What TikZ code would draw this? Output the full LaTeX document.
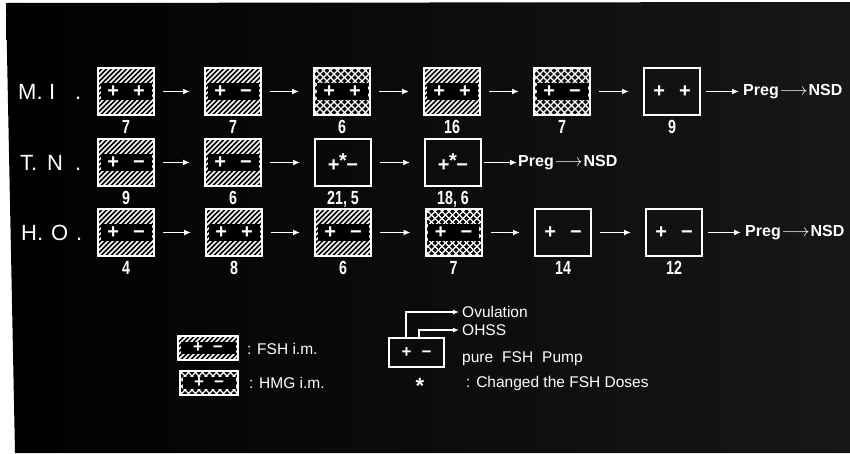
\documentclass[tikz,border=0pt]{standalone}
\usepackage{fontspec}
\setmainfont{Liberation Sans}
\newfontfamily\cond{Liberation Sans}[FakeStretch=0.75]
\usetikzlibrary{arrows.meta}
\tikzset{
  stage/.style={draw=white, line width=2pt, minimum width=56pt, minimum height=47pt,
    inner sep=0pt, text=white, font=\bfseries\fontsize{20}{20}\selectfont},
  fsh/.style={path picture={
      \foreach \i in {-70,-65,...,70}
        \draw[white,line width=1.7pt] ([xshift=\i]path picture bounding box.south west) -- ++(60,-60);
      \fill[black] ([xshift=2.5pt,yshift=-#1]path picture bounding box.west) rectangle
                   ([xshift=-2.5pt,yshift=#1]path picture bounding box.east);}},
  fsh/.default=8.5pt,
  hmg/.style={path picture={
      \foreach \i in {-70,-63,...,70}{
        \draw[white,line width=1.2pt] ([xshift=\i]path picture bounding box.south west) -- ++(60,-60);
        \draw[white,line width=1.2pt] ([xshift=\i]path picture bounding box.north west) -- ++(60,60);}
      \fill[black] ([xshift=2.5pt,yshift=-#1]path picture bounding box.west) rectangle
                   ([xshift=-2.5pt,yshift=#1]path picture bounding box.east);}},
  hmg/.default=8.5pt,
  num/.style={text=white, inner sep=0pt, anchor=north, font=\cond\bfseries\fontsize{19}{19}\selectfont},
  rowlbl/.style={text=white, inner sep=0pt, anchor=west, font=\fontsize{22}{22}\selectfont},
  preg/.style={text=white, inner sep=0pt, anchor=west, font=\bfseries\fontsize{16}{16}\selectfont},
  legtxt/.style={text=white, inner sep=0pt, anchor=west, font=\fontsize{15.5}{15.5}\selectfont},
  arr/.style={white, line width=1.5pt, -{Latex[length=7pt,width=6pt]}, shorten <=8pt, shorten >=14pt},
  arrp/.style={white, line width=1.5pt, -{Latex[length=7pt,width=6pt]}, shorten <=5pt, shorten >=4pt},
  larr/.style={white, line width=1.4pt, -{Latex[length=6pt,width=5pt]}, shorten >=3pt}
}
\newcommand{\ppl}{+\hspace{14pt}+}
\newcommand{\pmn}{+\hspace{14pt}−}
\newcommand{\pas}{+\kern-0.5pt\raisebox{4pt}{*}\kern-0.5pt−}
\newcommand{\preg}{Preg$\mkern1mu\longrightarrow\mkern1mu$NSD}
\begin{document}
\begin{tikzpicture}[x=1pt,y=-1pt]
\useasboundingbox (0,0) rectangle (850,453);
\fill[white] (0,0) rectangle (850,453);
\shade[left color=black, right color=gray!18!black] (6,3) -- (850,2) -- (850,453) -- (15,453) -- cycle;

% row labels
\node[rowlbl] (lmi) at (18,91.5) {\makebox[31pt][l]{M.}\makebox[26pt][l]{I}.};
\node[rowlbl] (ltn) at (20,162.5) {\makebox[27pt][l]{T.}\makebox[28pt][l]{N}.};
\node[rowlbl] (lho) at (21,232.5) {\makebox[30pt][l]{H.}\makebox[25pt][l]{O}.};

% row M.I.
\node[stage,fsh] (a1) at (126,91.5) {\ppl};
\node[stage,fsh] (a2) at (233,91.5) {\pmn};
\node[stage,hmg] (a3) at (342,91.5) {\ppl};
\node[stage,fsh] (a4) at (452,91.5) {\ppl};
\node[stage,hmg] (a5) at (562,91.5) {\pmn};
\node[stage]     (a6) at (672,91.5) {\ppl};
\node[preg] (ap) at (743,91.5) {\preg};
\foreach \p/\q in {a1/a2,a2/a3,a3/a4,a4/a5,a5/a6} \draw[arr] (\p) -- (\q);
\draw[arrp] (a6) -- (ap);
\foreach \n/\t in {a1/7,a2/7,a3/6,a4/16,a5/7,a6/9}
  \node[num] (\n n) at ([yshift=-4pt]\n.south) {\t};

% row T.N.
\node[stage,fsh] (b1) at (126,162.5) {\pmn};
\node[stage,fsh] (b2) at (233,162.5) {\pmn};
\node[stage]     (b3) at (343,162.5) {\pas};
\node[stage]     (b4) at (453,162.5) {\pas};
\node[preg] (bp) at (518,162.5) {\preg};
\foreach \p/\q in {b1/b2,b2/b3,b3/b4} \draw[arr] (\p) -- (\q);
\draw[arrp, shorten <=2pt, shorten >=1pt] (b4) -- (bp);
\foreach \n/\t in {b1/9,b2/6,b3/{21, 5},b4/{18, 6}}
  \node[num] (\n n) at ([yshift=-4pt]\n.south) {\t};

% row H.O.
\node[stage,fsh] (c1) at (126,232.5) {\pmn};
\node[stage,fsh] (c2) at (234,232.5) {\ppl};
\node[stage,fsh] (c3) at (343,232.5) {\pmn};
\node[stage,hmg] (c4) at (453.5,232.5) {\pmn};
\node[stage]     (c5) at (563,232.5) {\pmn};
\node[stage]     (c6) at (674,232.5) {\pmn};
\node[preg] (cp) at (745,232.5) {\preg};
\foreach \p/\q in {c1/c2,c2/c3,c3/c4,c4/c5,c5/c6} \draw[arr] (\p) -- (\q);
\draw[arrp] (c6) -- (cp);
\foreach \n/\t in {c1/4,c2/8,c3/6,c4/7,c5/14,c6/12}
  \node[num] (\n n) at ([yshift=-4pt]\n.south) {\t};

% legend
\node[stage, fsh=6pt, minimum width=60pt, minimum height=24pt, font=\bfseries\fontsize{17}{17}\selectfont] (lf) at (208,348) {+\hspace{10pt}−};
\node[legtxt] (lft) at (247,349) {: FSH i.m.};
\node[stage, hmg=6pt, minimum width=58pt, minimum height=24pt, font=\bfseries\fontsize{17}{17}\selectfont] (lh) at (209,383) {+\hspace{10pt}−};
\node[legtxt] (lht) at (249,383) {: HMG i.m.};

\node[stage, minimum width=55pt, minimum height=29pt, font=\bfseries\fontsize{17}{17}\selectfont] (pump) at (416.5,352.5) {+\hspace{10pt}−};
\node[legtxt] (ovt) at (462,312) {Ovulation};
\node[legtxt] (oht) at (462,330) {OHSS};
\draw[larr] ([xshift=-10.5pt]pump.north) |- (ovt.west);
\draw[larr] ([xshift=2.5pt]pump.north) |- (oht.west);
\node[legtxt] (pft) at (462,359) {pure\hspace{9pt}FSH\hspace{9pt}Pump};
\node[text=white, inner sep=0pt, font=\bfseries\fontsize{22}{22}\selectfont] (ast) at (420,386) {*};
\node[legtxt] (cht) at (466,383) {: Changed the FSH Doses};
\end{tikzpicture}
\end{document}
